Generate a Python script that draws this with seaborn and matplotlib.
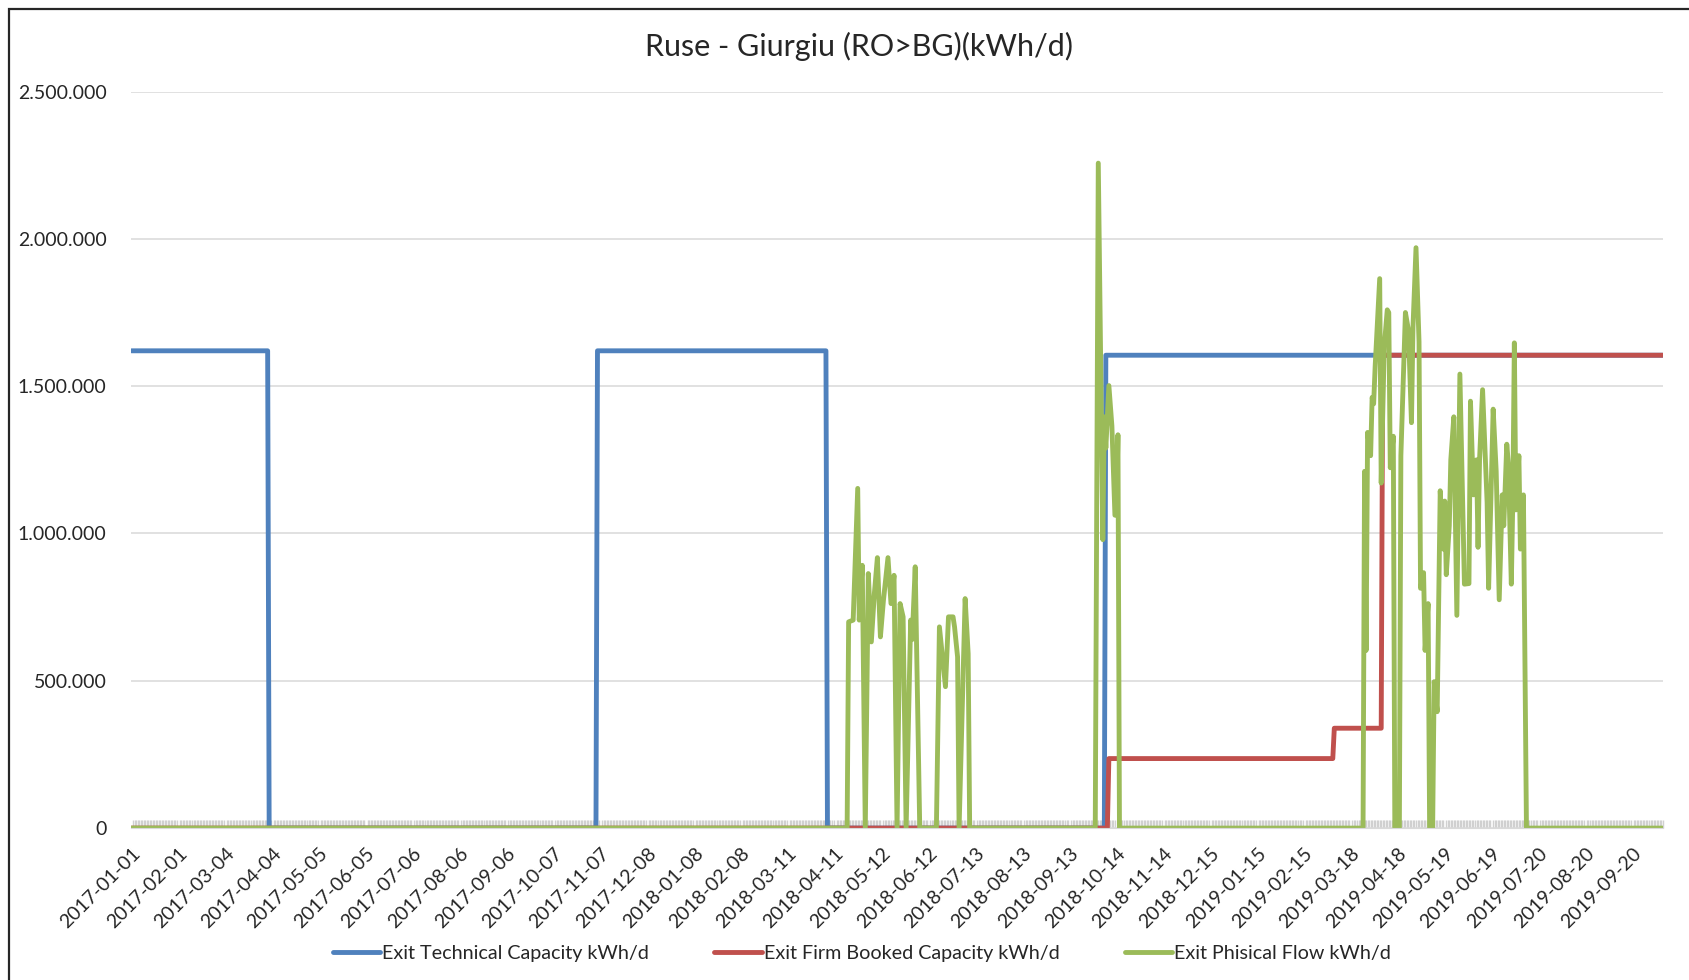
import matplotlib
matplotlib.use('Agg')
import matplotlib.pyplot as plt
import matplotlib.dates as mdates
from matplotlib.lines import Line2D
from matplotlib.patches import Rectangle
from matplotlib.ticker import FuncFormatter
import seaborn as sns
import pandas as pd

# --- data ---
start_date = '2017-01-01'
end_date = '2019-10-10'

tick_labels = ['2017-01-01', '2017-02-01', '2017-03-04', '2017-04-04', '2017-05-05',
               '2017-06-05', '2017-07-06', '2017-08-06', '2017-09-06', '2017-10-07',
               '2017-11-07', '2017-12-08', '2018-01-08', '2018-02-08', '2018-03-11',
               '2018-04-11', '2018-05-12', '2018-06-12', '2018-07-13', '2018-08-13',
               '2018-09-13', '2018-10-14', '2018-11-14', '2018-12-15', '2019-01-15',
               '2019-02-15', '2019-03-18', '2019-04-18', '2019-05-19', '2019-06-19',
               '2019-07-20', '2019-08-20', '2019-09-20']

# Exit Technical Capacity (change points)
tech_dates = ['2017-01-01', '2017-04-01', '2017-04-02', '2017-11-04', '2017-11-05',
              '2018-04-05', '2018-04-06', '2018-10-06', '2018-10-07', '2019-10-10']
tech_values = [1620000, 1620000, 0, 0, 1620000,
               1620000, 0, 0, 1605000, 1605000]

# Exit Firm Booked Capacity (change points)
booked_dates = ['2017-01-01', '2018-10-08', '2018-10-09', '2019-03-06', '2019-03-07',
                '2019-04-07', '2019-04-08', '2019-10-10']
booked_values = [0, 0, 236000, 236000, 339000,
                 339000, 1605000, 1605000]

# Exit Phisical Flow (day number from 2017-01-01, value)
flow_days = [0, 473, 474, 477, 480, 481, 483, 485, 487, 489, 491, 493, 495, 497, 500,
             502, 504, 506, 508, 510, 512, 515, 516, 518, 521, 532, 534, 538, 540, 543,
             544, 546, 547, 551, 553, 554,
             637, 639, 642, 643, 644, 646, 648, 650, 651, 652, 653,
             814, 815, 816, 817, 819, 820, 821, 822, 825, 826, 828, 830, 831, 832, 834,
             835, 838, 839, 842, 844, 846, 847, 849, 851, 852, 854, 855, 857, 858, 860,
             861, 863, 865, 867, 868, 869, 871, 872, 874, 876, 878, 881, 884, 885, 887,
             889, 890, 891, 893, 896, 897, 900, 902, 904, 906, 907, 909, 910, 912, 913,
             914, 915, 917, 918, 920, 922, 1012]
flow_values = [0, 0, 700000, 706000, 1153000, 706000, 892000, 0, 864000, 632000, 796000,
               918000, 649000, 773000, 918000, 762000, 858000, 0, 762000, 717000, 0,
               706000, 640000, 887000, 0, 0, 683000, 480000, 717000, 717000, 683000,
               581000, 0, 779000, 592000, 0,
               0, 2257000, 979000, 1396000, 1290000, 1502000, 1365000, 1062000, 1062000,
               1335000, 0,
               0, 1211000, 603000, 1343000, 1264000, 1462000, 1440000, 1567000, 1865000,
               1171000, 1634000, 1759000, 1750000, 1223000, 1330000, 0, 0, 1264000,
               1750000, 1690000, 1376000, 1700000, 1970000, 1650000, 814000, 867000,
               603000, 762000, 0, 0, 497000, 395000, 1145000, 947000, 1110000, 860000,
               1026000, 1250000, 1396000, 722000, 1541000, 828000, 830000, 1449000,
               1131000, 1250000, 953000, 1250000, 1488000, 1105000, 814000, 1422000,
               1211000, 775000, 1131000, 1026000, 1303000, 1240000, 828000, 1120000,
               1647000, 1080000, 1264000, 947000, 1131000, 0, 0]

series_names = ['Exit Technical Capacity kWh/d', 'Exit Firm Booked Capacity kWh/d',
                'Exit Phisical Flow kWh/d']
colors = ['#4F81BD', '#C0504D', '#9BBB59']

# --- build one long table ---
t0 = pd.Timestamp(start_date)
df = pd.concat([
    pd.DataFrame({'date': pd.to_datetime(tech_dates), 'value': tech_values,
                  'series': series_names[0]}),
    pd.DataFrame({'date': pd.to_datetime(booked_dates), 'value': booked_values,
                  'series': series_names[1]}),
    pd.DataFrame({'date': t0 + pd.to_timedelta(flow_days, unit='D'), 'value': flow_values,
                  'series': series_names[2]}),
], ignore_index=True)

sns.set_style('white')
plt.rcParams['font.family'] = ['Lato', 'DejaVu Sans']

fig = plt.figure(figsize=(16.9, 9.8), dpi=100)
ax = fig.add_axes([0.0778, 0.155, 0.906, 0.7516])

sns.lineplot(data=df, x='date', y='value', hue='series', hue_order=series_names,
             palette=colors, estimator=None, sort=False, linewidth=3.5,
             legend=False, ax=ax)

ax.set_xlim(pd.Timestamp(start_date), pd.Timestamp(end_date))
ax.set_ylim(0, 2500000)
ax.set_yticks([0, 500000, 1000000, 1500000, 2000000, 2500000])
ax.yaxis.set_major_formatter(FuncFormatter(lambda v, p: f'{int(v):,}'.replace(',', '.')))
ax.yaxis.grid(True, color='#d9d9d9', linewidth=1.1)
ax.set_axisbelow(True)

ax.set_xticks(pd.to_datetime(tick_labels))
ax.set_xticklabels(tick_labels, rotation=45, ha='right', rotation_mode='anchor')
ax.xaxis.set_minor_locator(mdates.DayLocator())

# daily tick marks form the grey dotted band along the zero line
ax.tick_params(axis='x', which='major', bottom=True, length=0, pad=12, labelsize=14)
ax.tick_params(axis='x', which='minor', bottom=True, direction='in', length=5.5,
               width=1, color='#d0d0d0')
ax.tick_params(axis='y', left=False, length=0, pad=18, labelsize=14)

for s in ['top', 'right', 'left']:
    ax.spines[s].set_visible(False)
ax.spines['bottom'].set_color('#d9d9d9')

ax.set_xlabel('')
ax.set_ylabel('')

fig.text(0.508, 0.953, 'Ruse - Giurgiu (RO>BG)(kWh/d)', ha='center', va='center',
         fontsize=22)

handles = [Line2D([0], [0], color=c, linewidth=3.5) for c in colors]
fig.legend(handles, series_names, loc='center', bbox_to_anchor=(0.51, 0.027), ncol=3,
           frameon=False, fontsize=14.2, handlelength=2.4, handletextpad=0.1,
           columnspacing=3.3)

# chart border
fig.patches.append(Rectangle((9 / 1690, -0.1), 1.2, 1.1 - 9 / 980,
                             transform=fig.transFigure, fill=False,
                             edgecolor='#262626', linewidth=1.6))

fig.savefig('out.png', dpi=100)
